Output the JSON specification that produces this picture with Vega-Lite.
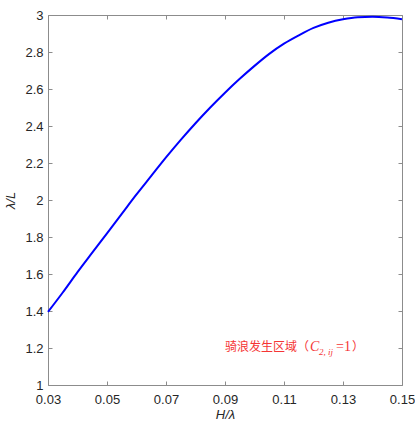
{
  "$schema": "https://vega.github.io/schema/vega-lite/v6.json",
  "width": 354,
  "height": 370,
  "autosize": {"type": "none"},
  "padding": {"left": 48, "top": 15, "right": 13, "bottom": 40},
  "background": "white",
  "config": {
    "view": {"stroke": "#8c8c8c", "strokeWidth": 1},
    "axis": {
      "grid": false,
      "domain": false,
      "tickColor": "#8c8c8c",
      "tickSize": -4,
      "labelFont": "Liberation Sans",
      "labelFontSize": 13,
      "labelColor": "#262626",
      "titleFont": "Liberation Sans",
      "titleFontSize": 13,
      "titleFontWeight": "normal",
      "titleFontStyle": "italic",
      "titleColor": "#262626"
    }
  },
  "resolve": {"axis": {"x": "independent", "y": "independent"}},
  "datasets": {
    "curve": [
      {"h": 0.030, "r": 1.395},
      {"h": 0.035, "r": 1.50},
      {"h": 0.040, "r": 1.61},
      {"h": 0.045, "r": 1.715},
      {"h": 0.050, "r": 1.82},
      {"h": 0.055, "r": 1.925},
      {"h": 0.060, "r": 2.03},
      {"h": 0.065, "r": 2.13},
      {"h": 0.070, "r": 2.23},
      {"h": 0.075, "r": 2.325},
      {"h": 0.080, "r": 2.415},
      {"h": 0.085, "r": 2.50},
      {"h": 0.090, "r": 2.58},
      {"h": 0.095, "r": 2.655},
      {"h": 0.100, "r": 2.725},
      {"h": 0.105, "r": 2.79},
      {"h": 0.110, "r": 2.845},
      {"h": 0.115, "r": 2.89},
      {"h": 0.120, "r": 2.93},
      {"h": 0.125, "r": 2.958},
      {"h": 0.130, "r": 2.977},
      {"h": 0.135, "r": 2.988},
      {"h": 0.140, "r": 2.99},
      {"h": 0.145, "r": 2.986},
      {"h": 0.150, "r": 2.977}
    ],
    "note": [
      {"h": 0.090, "r": 1.205}
    ]
  },
  "layer": [
    {
      "data": {"name": "curve"},
      "mark": {"type": "line", "color": "#0000ff", "strokeWidth": 2, "interpolate": "monotone"},
      "encoding": {
        "x": {
          "field": "h", "type": "quantitative",
          "scale": {"domain": [0.03, 0.15], "nice": false, "zero": false},
          "axis": {"values": [0.03, 0.05, 0.07, 0.09, 0.11, 0.13, 0.15], "format": ".2f", "title": "H/λ", "labelPadding": 12, "titlePadding": 2, "labelFlush": false}
        },
        "y": {
          "field": "r", "type": "quantitative",
          "scale": {"domain": [1, 3], "nice": false, "zero": false},
          "axis": {"values": [1, 1.2, 1.4, 1.6, 1.8, 2, 2.2, 2.4, 2.6, 2.8, 3], "format": "~g", "title": "λ/L", "labelPadding": 9, "titlePadding": 7, "labelFlush": false}
        }
      }
    },
    {
      "data": {"name": "curve"},
      "mark": {"type": "line", "opacity": 0},
      "encoding": {
        "x": {"field": "h", "type": "quantitative",
          "axis": {"orient": "top", "values": [0.03, 0.05, 0.07, 0.09, 0.11, 0.13, 0.15], "labels": false, "title": null}},
        "y": {"field": "r", "type": "quantitative",
          "axis": {"orient": "right", "values": [1, 1.2, 1.4, 1.6, 1.8, 2, 2.2, 2.4, 2.6, 2.8, 3], "labels": false, "title": null}}
      }
    },
    {
      "data": {"name": "note"},
      "mark": {"type": "text", "text": "骑浪发生区域（", "align": "left", "baseline": "middle", "font": "Noto Sans CJK SC", "fontSize": 12, "color": "#f53535"},
      "encoding": {"x": {"field": "h", "type": "quantitative", "axis": null}, "y": {"field": "r", "type": "quantitative", "axis": null}}
    },
    {
      "data": {"name": "note"},
      "mark": {"type": "text", "text": "C", "align": "left", "baseline": "middle", "dx": 85, "font": "Liberation Serif", "fontStyle": "italic", "fontSize": 14, "color": "#f53535"},
      "encoding": {"x": {"field": "h", "type": "quantitative", "axis": null}, "y": {"field": "r", "type": "quantitative", "axis": null}}
    },
    {
      "data": {"name": "note"},
      "mark": {"type": "text", "text": "2, ij", "align": "left", "baseline": "middle", "dx": 94, "dy": 5, "font": "Liberation Serif", "fontStyle": "italic", "fontSize": 9, "color": "#f53535"},
      "encoding": {"x": {"field": "h", "type": "quantitative", "axis": null}, "y": {"field": "r", "type": "quantitative", "axis": null}}
    },
    {
      "data": {"name": "note"},
      "mark": {"type": "text", "text": "=1", "align": "left", "baseline": "middle", "dx": 111, "font": "Liberation Serif", "fontSize": 14, "color": "#f53535"},
      "encoding": {"x": {"field": "h", "type": "quantitative", "axis": null}, "y": {"field": "r", "type": "quantitative", "axis": null}}
    },
    {
      "data": {"name": "note"},
      "mark": {"type": "text", "text": "）", "align": "left", "baseline": "middle", "dx": 127, "font": "Noto Sans CJK SC", "fontSize": 12, "color": "#f53535"},
      "encoding": {"x": {"field": "h", "type": "quantitative", "axis": null}, "y": {"field": "r", "type": "quantitative", "axis": null}}
    }
  ]
}
